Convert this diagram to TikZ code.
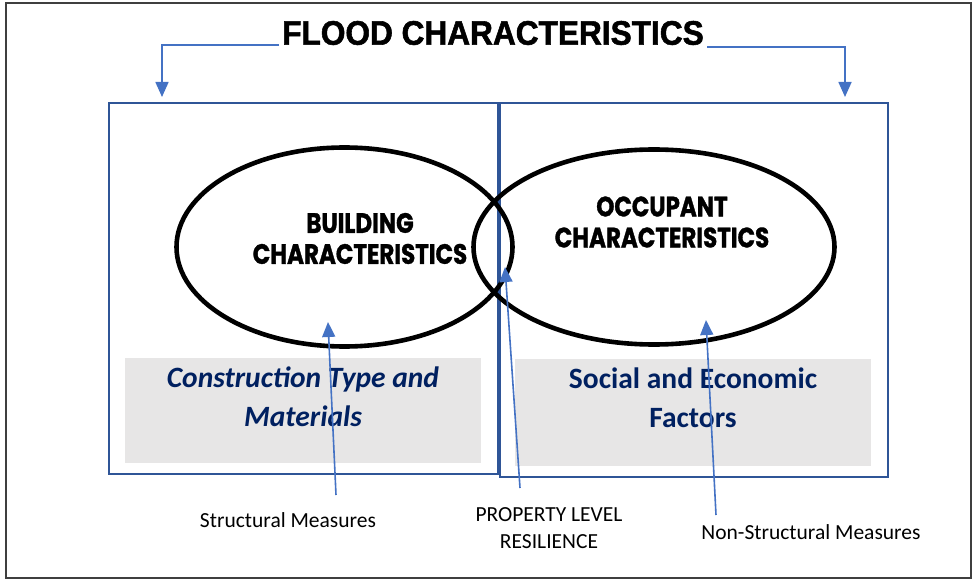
\documentclass[tikz,border=0pt]{standalone}
\usepackage{fontspec}
\setmainfont{Carlito}
\newfontfamily\headfont[FakeStretch=0.93,FakeBold=1.6]{Liberation Sans}
\newfontfamily\gothicfont[FakeStretch=0.82,FakeBold=1.2]{Poppins}
\usepackage{tikz}
\usetikzlibrary{arrows.meta,positioning,shapes.geometric}
\definecolor{edge}{HTML}{3F3F3F}
\definecolor{navy}{HTML}{2F5597}
\definecolor{accent}{HTML}{4472C4}
\definecolor{ink}{HTML}{002060}
\definecolor{shade}{HTML}{E7E6E6}
\tikzset{
  panel/.style = {rectangle, draw=navy, line width=2.2pt, anchor=north west, inner sep=0pt},
  greybox/.style= {rectangle, fill=shade, anchor=north west, inner sep=0pt},
  ell/.style   = {ellipse, draw=black, line width=4.6pt, inner sep=0pt},
  ellt/.style  = {align=center, font=\gothicfont\bfseries\fontsize{28}{31}\selectfont},
  factor/.style= {align=center, text=ink, font=\bfseries\fontsize{29.5}{39}\selectfont},
  lbl/.style   = {align=center, font=\fontsize{21.5}{27}\selectfont},
  fl/.style    = {-{Triangle[length=15pt,width=13pt]}, line width=1.6pt, draw=accent},
}
\begin{document}
\begin{tikzpicture}[x=1pt,y=-1pt]
\useasboundingbox (0,0) rectangle (977,585);
\draw[edge, line width=1.8pt] (6,3) rectangle (971,578);
% heading
\node[font=\headfont\bfseries\fontsize{34}{36}\selectfont, inner sep=3pt] (flood) at (493,33) {FLOOD CHARACTERISTICS};
% the two panels with their grey strips
\node[panel, minimum width=389pt, minimum height=371pt] (bldgbox) at (108,102) {};
\node[panel, minimum width=388pt, minimum height=374pt] (occbox) at (499,102) {};
\node[greybox, minimum width=356pt, minimum height=105pt] (matbg) at (125,358) {};
\node[greybox, minimum width=356pt, minimum height=107pt] (socbg) at (515,359) {};
\node[factor, font=\bfseries\itshape\fontsize{29.5}{39}\selectfont] (mat) at (303,397) {Construction Type and\\Materials};
\node[factor] (soc) at (693,398) {Social and Economic\\Factors};
% overlapping ellipses
\node[ell, minimum width=336pt, minimum height=199pt] (bldg) at (344.5,247) {};
\node[ell, minimum width=361pt, minimum height=195pt] (occ) at (654,247) {};
\node[ellt] (bldgt) at (360,238.5) {BUILDING\\CHARACTERISTICS};
\node[ellt] (occt) at (662,222) {OCCUPANT\\CHARACTERISTICS};
% measures
\node[lbl] (structural) at (288,520) {Structural Measures};
\node[lbl] (plr) at (549,528.5) {PROPERTY LEVEL\\RESILIENCE};
\node[lbl] (nonstructural) at (811,532) {Non-Structural Measures};
\coordinate (bldgin) at (162,97);
\coordinate (occin) at (845,97);
\coordinate (structtop) at (336,495);
\coordinate (plrtop) at (520,488);
\coordinate (nonsttop) at (716,515);
\coordinate (bldgtip) at (328,322);
\coordinate (plrtip) at (505,267);
\coordinate (occtip) at (706,320);
\draw[fl] ([yshift=-12pt]flood.west) -| (bldgin);
\draw[fl] ([yshift=-14pt]flood.east) -| (occin);
\draw[fl] (structtop) -- (bldgtip);
\draw[fl] (plrtop) -- (plrtip);
\draw[fl] (nonsttop) -- (occtip);
\end{tikzpicture}
\end{document}
